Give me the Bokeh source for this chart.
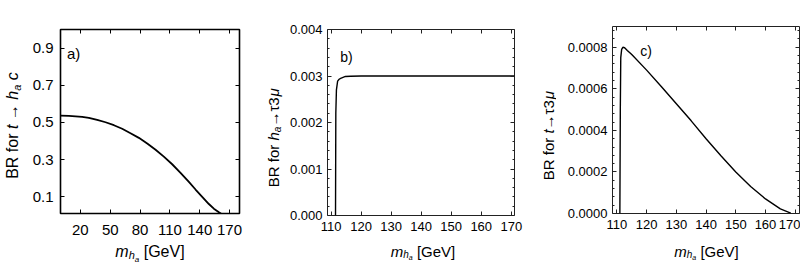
import math
from bokeh.plotting import figure
from bokeh.models import FixedTicker, Label, LinearAxis, Range1d
from bokeh.layouts import row, column
from bokeh.embed import file_html
from bokeh.resources import INLINE

FONT = "Liberation Sans"
TOP_H = 243
XL_H = 26

# ---------------- data ----------------
# panel a) BR for t -> h_a c
a_mass = [0, 8.4, 15.1, 21.8, 28.5, 36.9, 45.3, 53.7, 62.0, 70.4, 78.8, 87.2,
          95.6, 103.9, 112.3, 120.7, 129.1, 135.8, 142.5, 149.2, 154.2, 159.3, 161.6]
a_br = [0.537, 0.535, 0.533, 0.530, 0.524, 0.514, 0.501, 0.485, 0.466, 0.442, 0.417, 0.387,
        0.353, 0.316, 0.275, 0.229, 0.180, 0.139, 0.100, 0.061, 0.036, 0.017, 0.009]
a_xticks = [20, 50, 80, 110, 140, 170]
a_xtick_labels = ["20", "50", "80", "110", "140", "170"]
a_yticks = [0.1, 0.3, 0.5, 0.7, 0.9]
a_ytick_labels = ["0.1", "0.3", "0.5", "0.7", "0.9"]

# panel b) BR for h_a -> tau 3mu
b_mass = [111.5, 111.6, 111.8, 112.2, 112.7, 113.2, 114.0, 114.8, 116.5, 120.0, 171.1]
b_br = [0.0, 0.0022, 0.0027, 0.00289, 0.00293, 0.00295, 0.00297, 0.00299, 0.002995, 0.003, 0.003]
b_xticks = [110, 120, 130, 140, 150, 160, 170]
b_xtick_labels = ["110", "120", "130", "140", "150", "160", "170"]
b_yticks = [0.0, 0.001, 0.002, 0.003, 0.004]
b_ytick_labels = ["0.000", "0.001", "0.002", "0.003", "0.004"]

# panel c) BR for t -> tau 3mu
c_mass = [111.0, 111.15, 111.3, 111.6, 112.0, 112.6, 113.5, 115, 120, 125, 130, 135,
          140, 145, 150, 155, 160, 165, 168.5]
c_br = [0.0, 0.0005, 0.00075, 0.00079, 0.0008, 0.000798, 0.000785, 0.000765, 0.00069,
        0.00061, 0.000528, 0.000446, 0.00036, 0.000278, 0.0002, 0.00013, 0.00007,
        0.000022, 0.000002]
c_xticks = [110, 120, 130, 140, 150, 160, 170]
c_xtick_labels = ["110", "120", "130", "140", "150", "160", "170"]
c_yticks = [0.0, 0.0002, 0.0004, 0.0006, 0.0008]
c_ytick_labels = ["0.0000", "0.0002", "0.0004", "0.0006", "0.0008"]

# ---------------- helpers ----------------
CW = {' ': 0.278, 'B': 0.667, 'R': 0.722, 'f': 0.278, 'o': 0.556, 'r': 0.333,
      't': 0.278, 'h': 0.556, 'a': 0.556, 'c': 0.5, 'm': 0.833, '[': 0.278,
      ']': 0.278, 'G': 0.778, 'e': 0.556, 'V': 0.667, '\u2192': 1.0,
      '\u03c4': 0.45, '3': 0.556, '\u03bc': 0.576, ')': 0.333}


def tw(s, size):
    return sum(CW.get(ch, 0.556) for ch in s) * size


def rich(p, parts, cx, cy, rotated=False):
    """Place a sequence of styled text pieces (sub/superscripts) in a text strip."""
    total = sum(tw(t, sz) for t, sz, st, sh in parts)
    pos = -total / 2.0
    for t, sz, st, sh in parts:
        if t.strip():
            if rotated:
                x, y, ang = cx + sh, cy + pos, math.pi / 2
            else:
                x, y, ang = cx + pos, cy - sh, 0
            p.add_layout(Label(x=x, y=y, text=t, angle=ang, text_font=FONT,
                               text_font_size=f"{sz}px", text_font_style=st,
                               text_align="left", text_baseline="alphabetic",
                               text_color="black"))
        pos += tw(t, sz)


def holder(width, height):
    f = figure(width=width, height=height, x_axis_type=None, y_axis_type=None,
               x_range=Range1d(0, width), y_range=Range1d(0, height),
               output_backend="svg", toolbar_location=None,
               min_border=0, min_border_left=0, min_border_right=0,
               min_border_top=0, min_border_bottom=0)
    f.outline_line_color = None
    f.background_fill_color = "white"
    f.border_fill_color = "white"
    return f


def panel(width, borders, xr, yr, xticks, xlabels, yticks, ylabels, yminor,
          tick_size, standoffs, frame_w, frame_col, tick_in):
    left, right, top, bottom = borders
    p = figure(width=width, height=TOP_H, x_range=Range1d(*xr),
               y_range=Range1d(*yr), output_backend="svg", toolbar_location=None,
               min_border_left=left, min_border_right=right,
               min_border_top=top, min_border_bottom=bottom)
    p.grid.visible = False
    p.background_fill_color = "white"
    p.border_fill_color = "white"
    p.outline_line_color = frame_col
    p.outline_line_width = frame_w
    p.outline_line_alpha = 1.0
    xt = FixedTicker(ticks=xticks, minor_ticks=[])
    yt = FixedTicker(ticks=yticks, minor_ticks=yminor)
    xa = p.xaxis[0]
    ya = p.yaxis[0]
    xa.ticker = xt
    ya.ticker = yt
    xa.major_label_overrides = {v: s for v, s in zip(xticks, xlabels)}
    ya.major_label_overrides = {v: s for v, s in zip(yticks, ylabels)}
    xa.major_label_standoff = standoffs[0]
    ya.major_label_standoff = standoffs[1]
    for ax in (xa, ya):
        ax.axis_line_color = None
        ax.major_tick_in = tick_in
        ax.major_tick_out = 0
        ax.minor_tick_in = 2
        ax.minor_tick_out = 0
        ax.major_tick_line_color = frame_col
        ax.minor_tick_line_color = frame_col
        ax.major_label_text_font = FONT
        ax.major_label_text_font_size = f"{tick_size}px"
        ax.major_label_text_color = "black"
    # mirrored ticks on top and right (no labels drawn)
    for loc, tk in (("above", xt), ("right", yt)):
        ax = LinearAxis(ticker=tk, axis_line_color=None, major_tick_in=tick_in,
                        major_tick_out=0, minor_tick_in=2, minor_tick_out=0,
                        major_tick_line_color=frame_col, minor_tick_line_color=frame_col,
                        major_label_text_color=None, major_label_text_font_size="1px",
                        major_label_standoff=0)
        p.add_layout(ax, loc)
    return p


# ---------------- panel a ----------------
pa = panel(229, (36, 14, 29, 30), (0, 180), (0.01, 1.0), a_xticks, a_xtick_labels,
           a_yticks, a_ytick_labels, [], 15, (11, 7), 1.6, "black", 4)
pa.line(a_mass, a_br, line_color="black", line_width=1.8)
pa.add_layout(Label(x=6.5, y=160.3, x_units="screen", y_units="screen", text="a)",
                    text_font=FONT, text_font_size="15px", text_baseline="alphabetic",
                    text_color="black"))
yl_a = holder(24, TOP_H)
rich(yl_a, [("BR", 16, "normal", 0), (" ", 16, "normal", 0), ("for", 16, "normal", 0),
            (" ", 16, "normal", 0), ("t", 16, "italic", 0), (" ", 16, "normal", 0),
            ("\u2192", 16, "normal", 0), (" ", 16, "normal", 0), ("h", 16, "italic", 0),
            ("a", 11, "italic", 4), (" ", 16, "normal", 0), ("c", 16, "italic", 0)],
     12, TOP_H - 125, rotated=True)

# ---------------- panel b ----------------
b_minor = [i * 0.0002 for i in range(21) if i % 5]
pb = panel(246, (43, 16, 29, 28), (108.83, 171.07), (0.0, 0.004), b_xticks,
           b_xtick_labels, b_yticks, b_ytick_labels, b_minor, 13, (6, 5), 1.0,
           "#222222", 4)
pb.line(b_mass, b_br, line_color="black", line_width=1.4)
pb.add_layout(Label(x=12.7, y=159, x_units="screen", y_units="screen", text="b)",
                    text_font=FONT, text_font_size="14px", text_baseline="alphabetic",
                    text_color="black"))
yl_b = holder(31, TOP_H)
rich(yl_b, [("BR", 15, "normal", 0), (" ", 15, "normal", 0), ("for", 15, "normal", 0),
            (" ", 15, "normal", 0), ("h", 15, "italic", 0), ("a", 10, "italic", 3.5),
            ("\u2192\u03c43", 15, "normal", 0), ("\u03bc", 15, "italic", 0)],
     20, TOP_H - 137, rotated=True)

# ---------------- panel c ----------------
c_minor = [i * 0.00004 for i in range(23) if i % 5]
pc = panel(244, (56, 1, 26, 30), (108.52, 171.44), (0.0, 0.0009), c_xticks,
           c_xtick_labels, c_yticks, c_ytick_labels, c_minor, 13, (6, 5), 1.0,
           "#222222", 4)
pc.line(c_mass, c_br, line_color="black", line_width=1.4)
pc.add_layout(Label(x=27.7, y=162.3, x_units="screen", y_units="screen", text="c)",
                    text_font=FONT, text_font_size="14px", text_baseline="alphabetic",
                    text_color="black"))
yl_c = holder(26, TOP_H)
rich(yl_c, [("BR", 15, "normal", 0), (" ", 15, "normal", 0), ("for", 15, "normal", 0),
            (" ", 15, "normal", 0), ("t", 15, "italic", 0),
            ("\u2192\u03c43", 15, "normal", 0), ("\u03bc", 15, "italic", 0)],
     18, TOP_H - 135, rotated=True)

# ---------------- x-axis titles (one strip under all panels) ----------------
xl = holder(800, XL_H)
base = XL_H + TOP_H - 251
rich(xl, [("m", 16, "italic", 0), ("h", 11, "italic", 3.5), ("a", 8, "italic", 8),
          (" ", 16, "normal", 0), ("[GeV]", 16, "normal", 0)], 149.5, base)
rich(xl, [("m", 15, "italic", 0), ("h", 10, "italic", 3), ("a", 7, "italic", 6),
          (" ", 15, "normal", 0), ("[GeV]", 15, "normal", 0)], 422.5, base)
rich(xl, [("m", 15, "italic", 0), ("h", 10, "italic", 3), ("a", 7, "italic", 6),
          (" ", 15, "normal", 0), ("[GeV]", 15, "normal", 0)], 706, base)

# each figure wrapped on its own so that Bokeh does not align frames across the row
top = row(column(yl_a), column(pa), column(yl_b), column(pb), column(yl_c), column(pc))
layout = column(top, xl)
open("out.html", "w").write(file_html(layout, INLINE))
